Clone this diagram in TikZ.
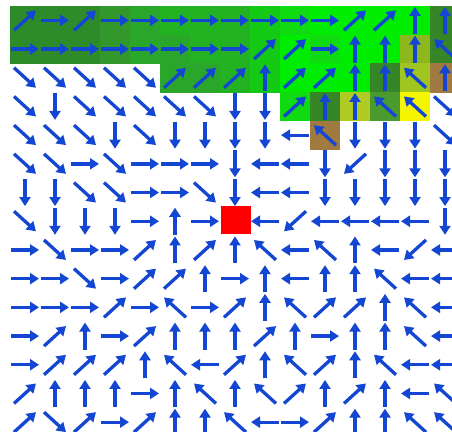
\documentclass[tikz,border=0pt]{standalone}
\usetikzlibrary{arrows.meta}
\definecolor{arrowblue}{RGB}{20,70,212}
\definecolor{g1}{RGB}{46,139,42}
\definecolor{g2}{RGB}{50,152,44}
\definecolor{g3}{RGB}{42,166,42}
\definecolor{g4}{RGB}{34,178,34}
\definecolor{g5}{RGB}{20,202,20}
\definecolor{g6}{RGB}{0,236,0}
\definecolor{g6b}{RGB}{16,218,16}
\definecolor{dg}{RGB}{54,134,40}
\definecolor{dg2}{RGB}{74,154,46}
\definecolor{ol1}{RGB}{140,184,30}
\definecolor{ol2}{RGB}{160,196,32}
\definecolor{ol3}{RGB}{176,204,36}
\definecolor{yel}{RGB}{245,245,0}
\definecolor{brn}{RGB}{160,122,64}
\tikzset{
  fieldarrow/.style={draw=arrowblue, line width=3.3pt, -{Triangle[width=11pt,length=9pt]}},
  cellfill/.style={fill=#1, draw=none}
}
\def\dE{\def\dx{14}\def\dy{0}}
\def\dW{\def\dx{-14}\def\dy{0}}
\def\dN{\def\dx{0}\def\dy{-13.5}}
\def\dS{\def\dx{0}\def\dy{13.5}}
\def\dNE{\def\dx{11}\def\dy{-10}}
\def\dNW{\def\dx{-11}\def\dy{-10}}
\def\dSE{\def\dx{11}\def\dy{10}}
\def\dSW{\def\dx{-11}\def\dy{10}}
\def\dX{\def\dx{0}\def\dy{0}}
\def\skipmark{X}
\begin{document}
\begin{tikzpicture}[x=1pt,y=-1pt]
\useasboundingbox (0,0) rectangle (452,431);
\clip (0,0) rectangle (452,431);
\fill[white] (0,0) rectangle (452,431);
% coloured cells
\foreach \c/\r/\col in {
  0/0/g1,1/0/g1,2/0/g1,3/0/g2,4/0/g3,5/0/g4,6/0/g4,7/0/g4,8/0/g5,9/0/g6b,10/0/g6,11/0/g6,12/0/g6,13/0/g6,14/0/dg,
  0/1/g1,1/1/g1,2/1/g1,3/1/g2,4/1/g3,5/1/g3,6/1/g4,7/1/g4,8/1/g5,9/1/g6,10/1/g6b,11/1/g6,12/1/g6,13/1/ol1,14/1/dg,
  5/2/g3,6/2/g3,7/2/g4,8/2/g5,9/2/g6,10/2/g6,11/2/g6,12/2/dg,13/2/ol2,14/2/brn,
  9/3/g6b,10/3/dg,11/3/ol3,12/3/dg2,13/3/yel,
  10/4/brn}
{
  \fill[cellfill=\col] ({10+30*\c},{6+28.7*\r}) rectangle ({40.4+30*\c},{35.1+28.7*\r});
}
% goal cell
\fill[red] (221,205.5) rectangle (251,233.5);
% vector field
\foreach \rowlist [count=\r from 0] in {
  {NE,E,NE,E,E,E,E,E,E,E,E,NE,NE,N,N},
  {E,E,E,E,E,E,E,E,NE,NE,E,N,N,N,NW},
  {SE,SE,SE,SE,SE,NE,NE,NE,N,NE,NE,N,N,NW,N},
  {SE,S,SE,SE,SE,SE,SE,S,S,NE,N,N,NW,NW,SE},
  {SE,SE,SE,S,SE,S,S,S,S,W,NW,S,S,S,SE},
  {SE,SE,E,SE,E,E,E,S,W,W,S,SW,S,S,S},
  {S,S,SE,SE,E,E,SE,S,W,W,S,S,S,S,S},
  {SE,S,S,S,E,N,E,X,W,SW,W,W,W,W,S},
  {E,SE,E,E,NE,N,NE,N,NW,W,NW,N,W,SW,W},
  {E,E,SE,E,NE,NE,N,E,N,W,N,N,NW,W,W},
  {E,E,E,NE,E,NW,E,NE,N,NW,NE,NE,N,NW,W},
  {E,NE,N,E,NE,N,N,N,NE,N,E,N,N,NW,W},
  {E,NE,NE,NE,N,NW,W,NE,N,NW,NE,N,NW,W,W},
  {NE,N,N,N,E,N,NW,N,NW,NE,N,NE,N,W,NW},
  {NE,SE,NE,E,NE,N,N,NW,W,E,NE,N,N,NW,NW}}
{
  \foreach \d [count=\c from 0] in \rowlist {
    \edef\curdir{\d}
    \ifx\curdir\skipmark\else
      \csname d\d\endcsname
      \pgfmathsetmacro\cx{25+30*\c}
      \pgfmathsetmacro\cy{20.35+28.7*\r}
      \draw[fieldarrow] ({\cx-\dx},{\cy-\dy}) -- ({\cx+\dx},{\cy+\dy});
    \fi
  }
}
\end{tikzpicture}
\end{document}
